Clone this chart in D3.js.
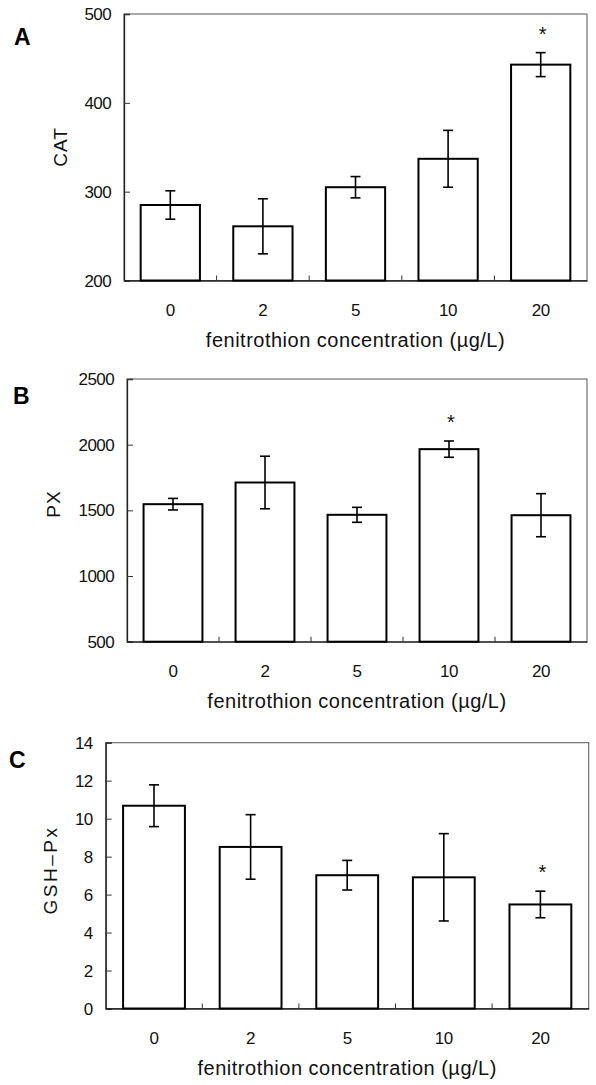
<!DOCTYPE html>
<html>
<head>
<meta charset="utf-8">
<script src="https://cdn.jsdelivr.net/npm/d3@7"></script>
<style>
    body { margin: 0; background: #fff; }
    svg { display: block; font-family: "Liberation Sans", Arial, sans-serif; }
</style>
</head>
<body>
<div id="d3-viz"></div>
<script>
// categories (fenitrothion concentration)
const CONCENTRATIONS = ["0", "2", "5", "10", "20"];

// panel A - CAT
const CAT_MEAN = [285, 261, 305, 337, 443];
const CAT_ERR = [16, 31, 12, 32, 13.5];
const CAT_TICKS = [200, 300, 400, 500];
const CAT_SIG = ["20"];

// panel B - PX
const PX_MEAN = [1547, 1712, 1466, 1966, 1463];
const PX_ERR = [44, 200, 57, 62, 164];
const PX_TICKS = [500, 1000, 1500, 2000, 2500];
const PX_SIG = ["10"];

// panel C - GSH-Px
const GSH_MEAN = [10.68, 8.51, 7.02, 6.91, 5.48];
const GSH_ERR = [1.1, 1.7, 0.78, 2.3, 0.7];
const GSH_TICKS = [0, 2, 4, 6, 8, 10, 12, 14];
const GSH_SIG = ["20"];

const X_TITLE = "fenitrothion concentration (\u00b5g/L)";

const WIDTH = 596;
const HEIGHT = 1085;
const PAD_INNER = 0.36;

// layout for each panel (pixel box of the plot frame)
const PANELS = [
    { letter: "A", label: "CAT", mean: CAT_MEAN, err: CAT_ERR, ticks: CAT_TICKS, sig: CAT_SIG,
      left: 124, right: 587, top: 14, bottom: 280.5, letterPos: [14, 45], labelPos: [60, 147], labelSpacing: 1 },
    { letter: "B", label: "PX", mean: PX_MEAN, err: PX_ERR, ticks: PX_TICKS, sig: PX_SIG,
      left: 127, right: 587, top: 379, bottom: 641.7, letterPos: [13, 404], labelPos: [53, 504], labelSpacing: 1 },
    { letter: "C", label: "GSH\u2013Px", mean: GSH_MEAN, err: GSH_ERR, ticks: GSH_TICKS, sig: GSH_SIG,
      left: 105.7, right: 588.7, top: 742.7, bottom: 1008.5, letterPos: [9, 768], labelPos: [50, 870], labelSpacing: 2.5 }
];

const svg = d3.select("#d3-viz")
    .append("svg")
    .attr("width", WIDTH)
    .attr("height", HEIGHT);

function drawPanel(p) {
    const g = svg.append("g");

    const rows = CONCENTRATIONS.map((c, i) => ({ conc: c, mean: p.mean[i], err: p.err[i] }));

    const xScale = d3.scaleBand()
        .domain(CONCENTRATIONS)
        .range([p.left, p.right])
        .paddingInner(PAD_INNER)
        .paddingOuter(PAD_INNER / 2);

    const yScale = d3.scaleLinear()
        .domain(d3.extent(p.ticks))
        .range([p.bottom, p.top]);

    // frame
    g.append("rect")
        .attr("x", p.left)
        .attr("y", p.top)
        .attr("width", p.right - p.left)
        .attr("height", p.bottom - p.top)
        .attr("fill", "none")
        .attr("stroke", "#555")
        .attr("stroke-width", 1);

    // y axis with inner ticks
    const yAxis = g.append("g")
        .attr("transform", `translate(${p.left},0)`)
        .call(d3.axisRight(yScale).tickValues(p.ticks).tickSize(6).tickFormat(""));
    yAxis.select(".domain").attr("stroke", "#222").attr("stroke-width", 1.3);
    yAxis.selectAll(".tick line").attr("stroke", "#333");

    // y tick labels (right aligned, left of the frame)
    g.selectAll(".ytick-label")
        .data(p.ticks)
        .enter()
        .append("text")
        .attr("x", p.left - 13)
        .attr("y", d => yScale(d))
        .attr("dy", "0.36em")
        .attr("text-anchor", "end")
        .attr("font-size", "17px")
        .attr("letter-spacing", "-0.6px")
        .attr("fill", "#111")
        .text(d => d);

    // x axis
    const xAxis = g.append("g")
        .attr("transform", `translate(0,${p.bottom})`)
        .call(d3.axisBottom(xScale).tickSize(0).tickPadding(0).tickFormat(""));
    xAxis.select(".domain").attr("stroke", "#222").attr("stroke-width", 1.3);

    // small upward ticks between categories
    const step = xScale.step();
    g.selectAll(".xsep")
        .data(CONCENTRATIONS.slice(1))
        .enter()
        .append("line")
        .attr("x1", d => xScale(d) - step * PAD_INNER / 2)
        .attr("x2", d => xScale(d) - step * PAD_INNER / 2)
        .attr("y1", p.bottom)
        .attr("y2", p.bottom - 5)
        .attr("stroke", "#333");

    // x tick labels
    g.selectAll(".xtick-label")
        .data(CONCENTRATIONS)
        .enter()
        .append("text")
        .attr("x", d => xScale(d) + xScale.bandwidth() / 2)
        .attr("y", p.bottom + 35)
        .attr("text-anchor", "middle")
        .attr("font-size", "17px")
        .attr("letter-spacing", "-0.4px")
        .attr("fill", "#111")
        .text(d => d);

    // bars
    g.selectAll(".bar")
        .data(rows)
        .enter()
        .append("rect")
        .attr("x", d => xScale(d.conc))
        .attr("y", d => yScale(d.mean))
        .attr("width", xScale.bandwidth())
        .attr("height", d => p.bottom - yScale(d.mean))
        .attr("fill", "#fff")
        .attr("stroke", "#000")
        .attr("stroke-width", 2);

    // error bars
    const cx = d => xScale(d.conc) + xScale.bandwidth() / 2;
    const err = g.selectAll(".err")
        .data(rows)
        .enter()
        .append("g")
        .attr("stroke", "#000")
        .attr("stroke-width", 1.6);
    err.append("line")
        .attr("x1", cx).attr("x2", cx)
        .attr("y1", d => yScale(d.mean + d.err))
        .attr("y2", d => yScale(d.mean - d.err));
    err.append("line")
        .attr("x1", d => cx(d) - 5).attr("x2", d => cx(d) + 5)
        .attr("y1", d => yScale(d.mean + d.err))
        .attr("y2", d => yScale(d.mean + d.err));
    err.append("line")
        .attr("x1", d => cx(d) - 5).attr("x2", d => cx(d) + 5)
        .attr("y1", d => yScale(d.mean - d.err))
        .attr("y2", d => yScale(d.mean - d.err));

    // significance asterisks
    g.selectAll(".sig")
        .data(rows.filter(d => p.sig.includes(d.conc)))
        .enter()
        .append("text")
        .attr("x", d => cx(d) + 2)
        .attr("y", d => yScale(d.mean + d.err) - 12)
        .attr("text-anchor", "middle")
        .attr("font-size", "20px")
        .attr("fill", "#111")
        .text("*");

    // x title
    g.append("text")
        .attr("x", (p.left + p.right) / 2)
        .attr("y", p.bottom + 66)
        .attr("text-anchor", "middle")
        .attr("font-size", "20px")
        .attr("letter-spacing", "0.5px")
        .attr("fill", "#111")
        .text(X_TITLE);

    // y title
    g.append("text")
        .attr("transform", `translate(${p.labelPos[0]},${p.labelPos[1]}) rotate(-90)`)
        .attr("dy", "0.36em")
        .attr("text-anchor", "middle")
        .attr("font-size", "19px")
        .attr("letter-spacing", `${p.labelSpacing}px`)
        .attr("fill", "#111")
        .text(p.label);

    // panel letter
    g.append("text")
        .attr("x", p.letterPos[0])
        .attr("y", p.letterPos[1])
        .attr("font-size", "23px")
        .attr("font-weight", "bold")
        .attr("fill", "#000")
        .text(p.letter);
}

PANELS.forEach(drawPanel);
</script>
</body>
</html>
